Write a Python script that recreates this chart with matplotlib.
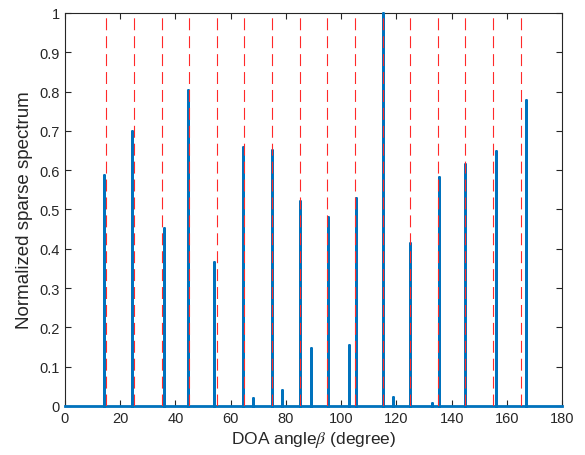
import numpy as np
import matplotlib
matplotlib.use("Agg")
import matplotlib.pyplot as plt

plt.rcParams["font.family"] = ["Liberation Sans", "DejaVu Sans"]
plt.rcParams["mathtext.fontset"] = "stix"
plt.rcParams["lines.scale_dashes"] = False

# true source directions (degree)
true_doa = [15, 25, 35, 45, 55, 65, 75, 85, 95, 105, 115, 125, 135, 145, 155, 165]

# estimated spectrum peaks: angle (degree) and normalized amplitude
peak_angle = [14.1, 24.2, 35.9, 44.6, 54.1, 64.6, 68.2, 75.0, 78.6, 85.1, 89.1,
              95.3, 102.7, 105.3, 115.0, 118.9, 125.0, 132.8, 135.5, 144.8, 156.0, 167.0]
peak_amp = [0.588, 0.700, 0.454, 0.805, 0.366, 0.658, 0.021, 0.652, 0.041, 0.522, 0.147,
            0.480, 0.155, 0.529, 1.000, 0.023, 0.414, 0.008, 0.582, 0.615, 0.648, 0.779]

# build the spectrum as a line: zero floor with a spike at every peak
xs = [0.0]
ys = [0.0]
for a, h in zip(peak_angle, peak_amp):
    xs += [a, a, a]
    ys += [0.0, h, 0.0]
xs.append(180.0)
ys.append(0.0)

fig = plt.figure(figsize=(5.85, 4.56), dpi=100)
ax = fig.add_axes([0.111, 0.1075, 0.85, 0.862])

# spectrum sits on top of the bottom spine, dashed truth lines on top of that
ax.plot(xs, ys, color="#0072BD", linewidth=2.0, zorder=2.6, clip_on=False)
for d in true_doa:
    ax.axvline(d, color="#FF2A2A", linewidth=0.8, dashes=(8.6, 4.3), zorder=3)

ax.set_xlim(0, 180)
ax.set_ylim(0, 1)
ax.set_xticks(np.arange(0, 181, 20))
ax.set_yticks(np.arange(0, 1.01, 0.1))
ax.set_yticklabels(["0", "0.1", "0.2", "0.3", "0.4", "0.5", "0.6", "0.7", "0.8", "0.9", "1"])
ax.tick_params(direction="in", top=True, right=True, length=4, width=0.8,
               colors="#262626", labelsize=10.5)
for s in ax.spines.values():
    s.set_color("#262626")
    s.set_linewidth(0.8)

ax.set_xlabel(r"DOA angle$\beta$ (degree)", fontsize=12.5, color="#262626", labelpad=3)
ax.set_ylabel("Normalized sparse spectrum", fontsize=13.5, color="#262626", labelpad=5)

fig.savefig("out.png", dpi=100)
